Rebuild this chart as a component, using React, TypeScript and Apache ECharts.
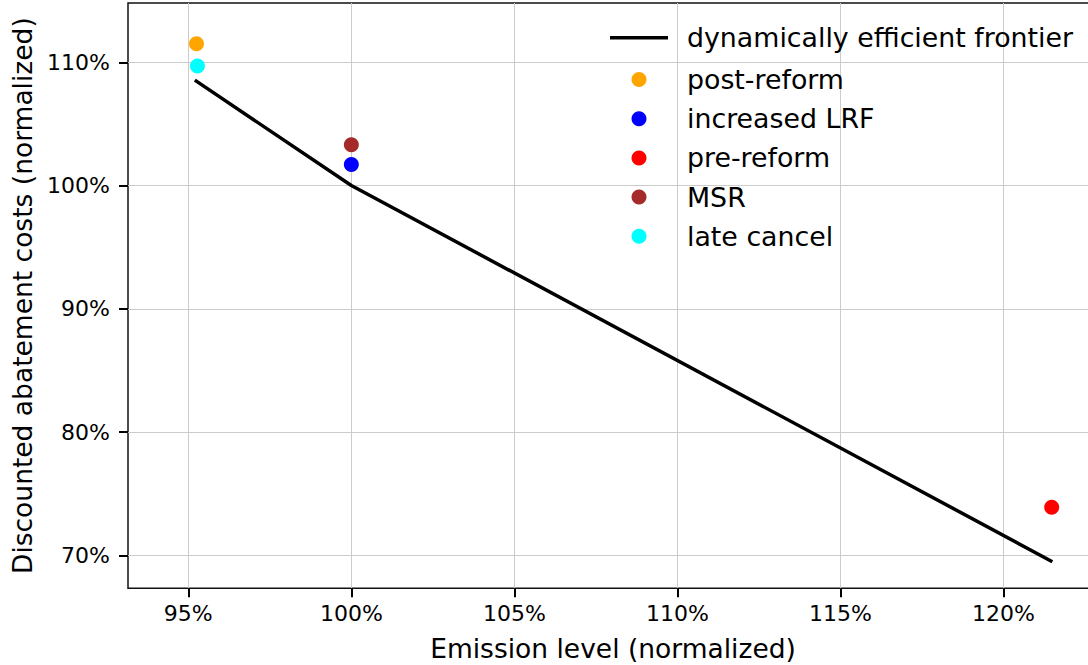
import React, { useEffect, useRef } from "react";
import * as echarts from "echarts";

const frontierX = [95.2, 100, 121.5];
const frontierY = [108.55, 100, 69.48];

const scenarioNames = ["post-reform", "increased LRF", "pre-reform", "MSR", "late cancel"];
const scenarioX = [95.25, 100, 121.48, 100, 95.28];
const scenarioY = [111.5, 101.7, 73.9, 103.3, 109.7];
const scenarioColors = ["#FFA500", "#0000FF", "#FF0000", "#A52A2A", "#00FFFF"];

const xTicks = [95, 100, 105, 110, 115, 120];
const yTicks = [70, 80, 90, 100, 110];

const FONT = "DejaVu Sans";
const FRONTIER = "dynamically efficient frontier";

export default function App() {
  const ref = useRef<HTMLDivElement>(null);
  useEffect(() => {
    if (!ref.current) return;
    const chart = echarts.init(ref.current, null, { renderer: "svg" });
    const scatterSeries = scenarioNames.map((name, i) => ({
      name,
      type: "scatter",
      symbol: "circle",
      symbolSize: 15,
      itemStyle: { color: scenarioColors[i], opacity: 1 },
      data: [[scenarioX[i], scenarioY[i]]],
      z: 3,
    }));
    const legendText = () => ({
      fontFamily: FONT,
      fontSize: 26.8,
      lineHeight: 26,
      color: "#000",
      padding: [0, 0, 0, 14],
    });
    chart.setOption({
      animation: false,
      textStyle: { fontFamily: FONT },
      grid: {
        left: 128,
        top: 3,
        right: 2,
        bottom: 76.7,
        outerBoundsMode: "none",
        containLabel: false,
        show: true,
        borderColor: "#111",
        borderWidth: 1.5,
        backgroundColor: "transparent",
      },
      legend: [
        {
          left: 605,
          top: 19.3,
          orient: "vertical",
          align: "left",
          itemWidth: 58,
          itemHeight: 15,
          textStyle: legendText(),
          data: [{ name: FRONTIER, icon: "path://M0,0L58,0L58,3.6L0,3.6Z" }],
        },
        {
          left: 626.5,
          top: 61,
          orient: "vertical",
          align: "left",
          itemWidth: 58,
          itemHeight: 15,
          itemGap: 12.2,
          textStyle: legendText(),
          data: scenarioNames.map((n) => ({ name: n, icon: "circle" })),
        },
      ],
      xAxis: {
        type: "value",
        min: 93.15,
        max: 122.9,
        axisLine: { show: false },
        axisTick: {
          show: true,
          inside: false,
          length: 9,
          lineStyle: { color: "#000", width: 2 },
          customValues: xTicks,
        },
        axisLabel: {
          customValues: xTicks,
          formatter: (v: number) => `${v}%`,
          fontFamily: FONT,
          fontSize: 22,
          color: "#000",
          margin: 14,
        },
        splitLine: { show: true, lineStyle: { color: "#cccccc", width: 1 } },
        name: "Emission level (normalized)",
        nameLocation: "middle",
        nameGap: 47,
        nameTextStyle: { fontFamily: FONT, fontSize: 26.5, color: "#000" },
      },
      yAxis: {
        type: "value",
        min: 67.32,
        max: 114.81,
        axisLine: { show: false },
        axisTick: {
          show: true,
          inside: false,
          length: 9,
          lineStyle: { color: "#000", width: 2 },
          customValues: yTicks,
        },
        axisLabel: {
          customValues: yTicks,
          formatter: (v: number) => `${v}%`,
          fontFamily: FONT,
          fontSize: 22,
          color: "#000",
          margin: 18,
        },
        splitLine: { show: true, lineStyle: { color: "#cccccc", width: 1 } },
        name: "Discounted abatement costs (normalized)",
        nameLocation: "middle",
        nameGap: 92,
        nameTextStyle: { fontFamily: FONT, fontSize: 26.5, color: "#000" },
      },
      series: [
        {
          name: FRONTIER,
          type: "line",
          symbol: "none",
          lineStyle: { color: "#000", width: 3.5 },
          itemStyle: { color: "#000" },
          data: frontierX.map((x, i) => [x, frontierY[i]]),
          z: 2,
        },
        ...scatterSeries,
      ],
    });
    return () => chart.dispose();
  }, []);
  return (
    <div
      style={{
        position: "absolute",
        left: 0,
        top: 0,
        width: 1088,
        height: 665,
        overflow: "hidden",
        background: "#fff",
      }}
    >
      <div ref={ref} style={{ width: 1100, height: 665 }} />
    </div>
  );
}
